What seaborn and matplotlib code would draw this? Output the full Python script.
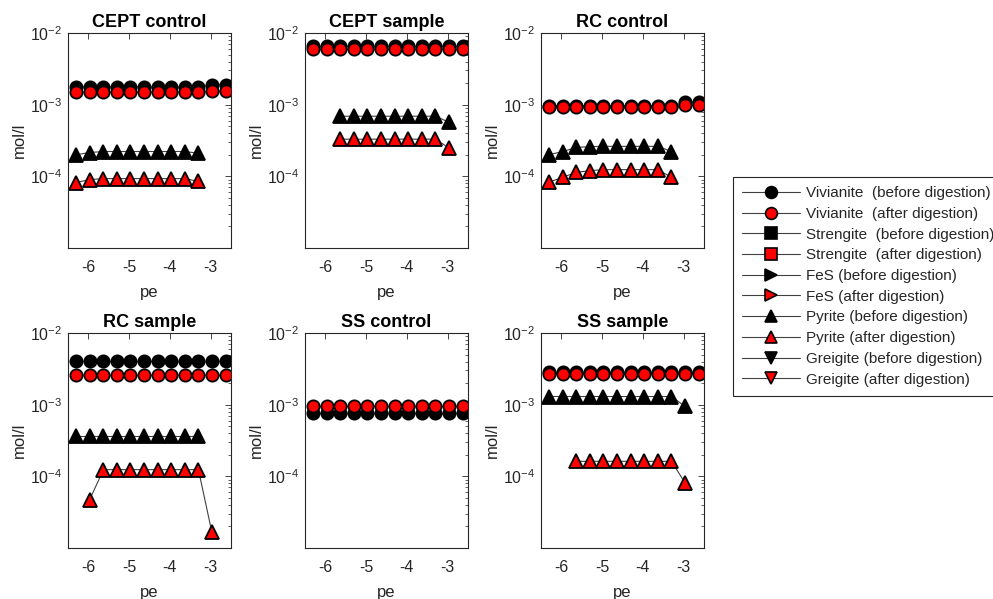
import numpy as np
import pandas as pd
import matplotlib
matplotlib.use("Agg")
import matplotlib.pyplot as plt
from matplotlib.lines import Line2D
from matplotlib.ticker import LogLocator, NullFormatter, FixedLocator
import seaborn as sns

sns.set_theme(style="white")
plt.rcParams['font.family'] = ['Liberation Sans', 'DejaVu Sans']
plt.rcParams['mathtext.fontset'] = 'custom'
plt.rcParams['mathtext.rm'] = 'Liberation Sans'
plt.rcParams['mathtext.default'] = 'regular'

# ---- data ----
pe = [-6.3, -5.97, -5.63, -5.3, -4.97, -4.63, -4.3, -3.97, -3.63, -3.3, -2.97, -2.63]

panel_titles = ["CEPT control", "CEPT sample", "RC control", "RC sample", "SS control", "SS sample"]

# Vivianite (12 points each, all pe values)
viv_before = {
    "CEPT control": [1.76e-3] * 10 + [1.9e-3, 1.9e-3],
    "CEPT sample": [6.5e-3] * 12,
    "RC control": [9.6e-4] * 10 + [1.08e-3, 1.08e-3],
    "RC sample": [4.1e-3] * 12,
    "SS control": [7.7e-4] * 12,
    "SS sample": [2.85e-3] * 12,
}
viv_after = {
    "CEPT control": [1.5e-3] * 10 + [1.55e-3, 1.55e-3],
    "CEPT sample": [6.0e-3] * 12,
    "RC control": [9.2e-4] * 10 + [9.8e-4, 9.8e-4],
    "RC sample": [2.6e-3] * 12,
    "SS control": [9.6e-4] * 12,
    "SS sample": [2.65e-3] * 12,
}
# Pyrite: (first pe index, values)
pyr_before_start = {"CEPT control": 0, "CEPT sample": 2, "RC control": 0, "RC sample": 0, "SS control": 0, "SS sample": 0}
pyr_before = {
    "CEPT control": [2.0e-4, 2.15e-4, 2.22e-4, 2.22e-4, 2.22e-4, 2.22e-4, 2.22e-4, 2.22e-4, 2.22e-4, 2.1e-4],
    "CEPT sample": [6.9e-4] * 8 + [5.7e-4],
    "RC control": [2.0e-4, 2.22e-4, 2.53e-4, 2.6e-4, 2.62e-4, 2.62e-4, 2.62e-4, 2.62e-4, 2.62e-4, 2.22e-4],
    "RC sample": [3.7e-4] * 10,
    "SS control": [],
    "SS sample": [1.3e-3] * 10 + [9.5e-4],
}
pyr_after_start = {"CEPT control": 0, "CEPT sample": 2, "RC control": 0, "RC sample": 1, "SS control": 0, "SS sample": 2}
pyr_after = {
    "CEPT control": [8.2e-5, 9.0e-5, 9.3e-5, 9.3e-5, 9.3e-5, 9.3e-5, 9.3e-5, 9.3e-5, 9.3e-5, 8.5e-5],
    "CEPT sample": [3.3e-4] * 8 + [2.5e-4],
    "RC control": [8.3e-5, 9.7e-5, 1.14e-4, 1.2e-4, 1.24e-4, 1.24e-4, 1.24e-4, 1.24e-4, 1.24e-4, 9.7e-5],
    "RC sample": [4.7e-5] + [1.24e-4] * 8 + [1.67e-5],
    "SS control": [],
    "SS sample": [1.62e-4] * 8 + [8.2e-5],
}

legend_labels = [
    "Vivianite  (before digestion)", "Vivianite  (after digestion)",
    "Strengite  (before digestion)", "Strengite  (after digestion)",
    "FeS (before digestion)", "FeS (after digestion)",
    "Pyrite (before digestion)", "Pyrite (after digestion)",
    "Greigite (before digestion)", "Greigite (after digestion)",
]
legend_markers = ["o", "o", "s", "s", ">", ">", "^", "^", "v", "v"]
legend_faces = ["black", "red"] * 5

# ---- layout ----
W, H = 993, 599
fig = plt.figure(figsize=(W / 100, H / 100), dpi=100)
lefts = [68, 305, 541]
tops = [33, 333]
aw, ah = 163, 215

TXT = "#262626"
LINE = "#404040"

def draw(ax, xs, ys, marker, face, ms):
    df = pd.DataFrame({"pe": xs, "c": ys})
    sns.lineplot(data=df, x="pe", y="c", ax=ax, estimator=None, sort=False,
                 color=LINE, linewidth=0.8, marker=marker, markersize=ms,
                 markerfacecolor=face, markeredgecolor="black", markeredgewidth=1.3)

for i, name in enumerate(panel_titles):
    r, c = divmod(i, 3)
    ax = fig.add_axes([lefts[c] / W, 1 - (tops[r] + ah) / H, aw / W, ah / H])
    pb = pyr_before[name]
    if pb:
        s = pyr_before_start[name]
        draw(ax, pe[s:s + len(pb)], pb, "^", "black", 10)
    pa = pyr_after[name]
    if pa:
        s = pyr_after_start[name]
        draw(ax, pe[s:s + len(pa)], pa, "^", "red", 10)
    draw(ax, pe, viv_before[name], "o", "black", 8.8)
    draw(ax, pe, viv_after[name], "o", "red", 8.8)

    ax.set_yscale("log")
    ax.set_ylim(1e-5, 1e-2)
    ax.set_xlim(-6.5, -2.5)
    ax.yaxis.set_major_locator(FixedLocator([1e-4, 1e-3, 1e-2]))
    ax.set_yticklabels(["$10^{-4}$", "$10^{-3}$", "$10^{-2}$"])
    ax.yaxis.set_minor_locator(LogLocator(base=10, subs=np.arange(2, 10), numticks=20))
    ax.yaxis.set_minor_formatter(NullFormatter())
    ax.set_xticks([-6, -5, -4, -3])
    ax.set_xticklabels(["-6", "-5", "-4", "-3"])
    ax.tick_params(axis="both", which="both", direction="in", top=True, right=True,
                   colors=TXT, labelsize=11.5, labelcolor=TXT)
    ax.tick_params(axis="both", which="major", length=4, width=0.6)
    ax.tick_params(axis="y", which="minor", length=2, width=0.5)
    ax.tick_params(axis="x", which="major", pad=9)
    ax.tick_params(axis="y", which="major", pad=4)
    for sp in ax.spines.values():
        sp.set_color(TXT)
        sp.set_linewidth(0.8)
    ax.set_xlabel("pe", fontsize=12, color=TXT, labelpad=7)
    ax.set_ylabel("mol/l", fontsize=12, color=TXT, labelpad=2)
    ax.set_title(name, fontsize=13, fontweight="bold", color="black", pad=4)

handles = [Line2D([], [], color=LINE, linewidth=0.8, marker=m, markersize=8.5,
                  markerfacecolor=f, markeredgecolor="black", markeredgewidth=1.2)
           for m, f in zip(legend_markers, legend_faces)]
leg = fig.legend(handles, legend_labels, loc="upper left",
                 bbox_to_anchor=(733 / W, 1 - 177 / H), borderaxespad=0,
                 fontsize=11, frameon=True, fancybox=False, edgecolor="#262626",
                 handlelength=3.8, handletextpad=0.4, labelspacing=0.44,
                 borderpad=0.6, framealpha=1)
leg.get_frame().set_linewidth(0.8)
for t in leg.get_texts():
    t.set_color(TXT)

fig.savefig("out.png", dpi=100)
